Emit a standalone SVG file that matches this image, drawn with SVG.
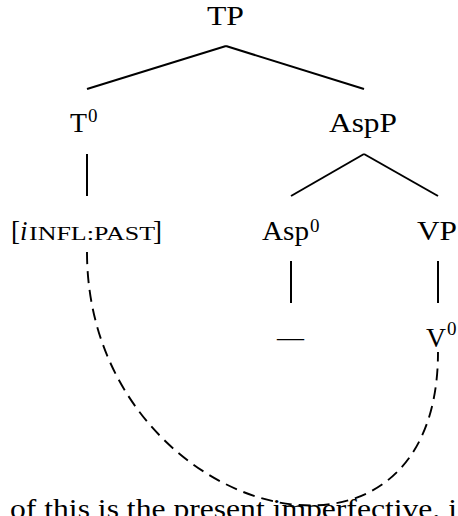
<svg xmlns="http://www.w3.org/2000/svg" width="458" height="516" viewBox="0 0 458 516">
<style>
text{font-family:"Liberation Serif","Times New Roman",serif;fill:#000;}
.lbl{font-size:27px;}
.sup{font-size:19px;}
.sc{font-size:19.5px;}
.edge{stroke:#000;stroke-width:2;fill:none;stroke-linecap:butt;}
.dash{stroke:#000;stroke-width:1.9;fill:none;stroke-dasharray:12 7;}
</style>
<rect width="458" height="516" fill="#fff"/>
<g id="connectors">
<line class="edge" x1="226" y1="46" x2="87" y2="89"/>
<line class="edge" x1="226" y1="46" x2="364" y2="89"/>
<line class="edge" x1="87" y1="154" x2="87" y2="196"/>
<line class="edge" x1="364" y1="154" x2="291" y2="196"/>
<line class="edge" x1="364" y1="154" x2="438" y2="196"/>
<line class="edge" x1="291" y1="261" x2="291" y2="303"/>
<line class="edge" x1="438" y1="261" x2="438" y2="303"/>
<path class="dash" d="M87,252 C87,514 438,614 438,352"/>
</g>
<g id="TP"><text class="lbl" x="207" y="25" textLength="37" lengthAdjust="spacingAndGlyphs">TP</text></g>
<g id="T0"><text class="lbl" x="70" y="132" textLength="17" lengthAdjust="spacingAndGlyphs">T</text><text class="sup" x="88" y="122">0</text></g>
<g id="AspP"><text class="lbl" x="329" y="132" textLength="68" lengthAdjust="spacingAndGlyphs">AspP</text></g>
<g id="feature"><text class="lbl" x="11" y="240">[</text><text class="lbl" x="20" y="240" font-style="italic">i</text><text class="sc" x="29" y="240" textLength="126" lengthAdjust="spacingAndGlyphs">INFL:PAST</text><text class="lbl" x="153" y="240">]</text></g>
<g id="Asp0"><text class="lbl" x="262" y="240" textLength="47" lengthAdjust="spacingAndGlyphs">Asp</text><text class="sup" x="310" y="232">0</text></g>
<g id="VP"><text class="lbl" x="417" y="240" textLength="40" lengthAdjust="spacingAndGlyphs">VP</text></g>
<g id="dash-node"><text class="lbl" x="277" y="346">—</text></g>
<g id="V0"><text class="lbl" x="426" y="347" textLength="20" lengthAdjust="spacingAndGlyphs">V</text><text class="sup" x="447" y="335">0</text></g>
<text x="10" y="518" font-size="26.5" textLength="447" lengthAdjust="spacingAndGlyphs">of this is the present imperfective, i</text>
</svg>
